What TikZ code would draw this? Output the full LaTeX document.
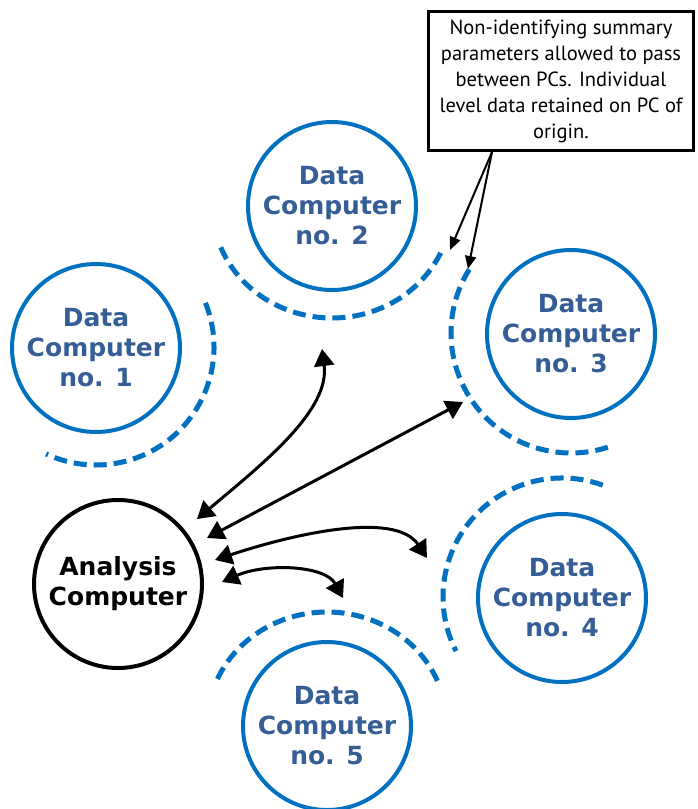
\documentclass[tikz,border=0pt]{standalone}
\usepackage{fontspec}
\newfontfamily\dcfont{DejaVu Sans}
\newfontfamily\notefont{PT Sans}
\usetikzlibrary{arrows.meta}
\definecolor{dcblue}{RGB}{0,112,192}
\definecolor{dctext}{RGB}{54,94,150}
\begin{document}
\begin{tikzpicture}[x=1pt,y=1pt,
  pc/.style={circle, line width=4pt, minimum size=168pt, inner sep=0pt, align=center,
    font=\dcfont\bfseries\fontsize{25}{30}\selectfont},
  dc/.style={pc, draw=dcblue, text=dctext},
  ac/.style={pc, draw=black, text=black},
  halo/.style={draw=dcblue, line width=5pt, dash pattern=on 13pt off 7pt},
  link/.style={line width=3pt, {Triangle[length=17pt,width=20pt]}-{Triangle[length=17pt,width=20pt]}},
  callout/.style={line width=2pt, -{Triangle[length=13pt,width=11pt]}},
  notebox/.style={draw, line width=2.5pt, minimum width=265pt, minimum height=139pt, align=center,
    inner sep=0pt, font=\notefont\fontsize{20.5}{26}\selectfont}]
\useasboundingbox (0,0) rectangle (698,-809);

% computers
\node[dc] (dc1) at (96,-348) {Data\\Computer\\no. 1};
\node[dc] (dc2) at (332,-206) {Data\\Computer\\no. 2};
\node[dc] (dc3) at (571,-334) {Data\\Computer\\no. 3};
\node[dc] (dc4) at (562,-598) {Data\\Computer\\no. 4};
\node[dc] (dc5) at (327,-726) {Data\\Computer\\no. 5};
\node[ac] (ac) at (118,-584) {Analysis\\Computer};

% dashed halos
\draw[halo] ([shift={(22:118pt)}]96,-347) arc[start angle=22, end angle=-115, radius=118pt];
\draw[halo] ([shift={(202:120pt and 113pt)}]332,-205) arc[start angle=202, end angle=337, x radius=120pt, y radius=113pt];
\draw[halo] ([shift={(148:120pt)}]571,-333) arc[start angle=148, end angle=288, radius=120pt];
\draw[halo] ([shift={(70:119pt)}]562,-597) arc[start angle=70, end angle=207, radius=119pt];
\draw[halo] ([shift={(23:120pt and 113pt)}]327,-725) arc[start angle=23, end angle=157, x radius=120pt, y radius=113pt];

% note box
\node[notebox] (note) at (561,-81) {Non-identifying summary\\parameters allowed to pass\\between PCs. Individual\\level data retained on PC of\\origin.};

% connector end points
\coordinate (a1) at (197,-519);
\coordinate (b1) at (322,-349);
\coordinate (a2) at (207,-538);
\coordinate (b2) at (463,-402);
\coordinate (a3) at (215,-560);
\coordinate (b3) at (427,-558);
\coordinate (a4) at (222,-582);
\coordinate (b4) at (343,-598);
\coordinate (c0) at (492,-152);
\coordinate (c1) at (450,-250);
\coordinate (c2) at (468,-269);

% links
\draw[link] (a1) .. controls (265,-462) and (330,-410) .. (b1);
\draw[link] (a2) -- (b2);
\draw[link] (a3) .. controls (290,-535) and (395,-510) .. (b3);
\draw[link] (a4) .. controls (265,-563) and (325,-565) .. (b4);

% callout arrows
\draw[callout] (c0) -- (c1);
\draw[callout] (c0) -- (c2);
\end{tikzpicture}
\end{document}
